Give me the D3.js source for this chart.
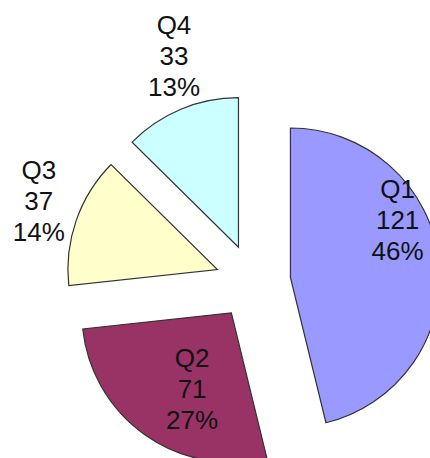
<!DOCTYPE html>
<html>
<head>
<meta charset="utf-8">
<script src="https://cdn.jsdelivr.net/npm/d3@7"></script>
<style>
  html, body { margin: 0; padding: 0; background: #fff; }
  svg { display: block; }
</style>
</head>
<body>
<svg id="chart" width="430" height="458"></svg>
<script>
var quarters = ["Q1", "Q2", "Q3", "Q4"];
var values = [121, 71, 37, 33];
var colors = ["#9999ff", "#993366", "#ffffcc", "#ccffff"];

// label placement: angle (deg, clockwise from 12 o'clock) and distance from pie centre
var labelAngle = [69.9, 207.7, 288.6, 340.0];
var labelDist = [154, 131, 226, 231];

var svg = d3.select("#chart");
var cx = 253, cy = 282;
var radius = 149.5;
var explode = 37.7;
var lineH = 31;

var total = d3.sum(values);
var data = quarters.map(function(q, i) { return {name: q, value: values[i], idx: i}; });

var pie = d3.pie().sort(null).value(function(d) { return d.value; });
var arc = d3.arc().innerRadius(0).outerRadius(radius);

var g = svg.append("g").attr("transform", "translate(" + cx + "," + cy + ")");

var slices = g.selectAll(".slice")
    .data(pie(data))
  .enter().append("path")
    .attr("class", "slice")
    .attr("d", arc)
    .attr("fill", function(d) { return colors[d.data.idx]; })
    .attr("stroke", "#333")
    .attr("stroke-width", 1.2)
    .attr("stroke-linejoin", "miter")
    .attr("transform", function(d) {
        var a = (d.startAngle + d.endAngle) / 2;
        return "translate(" + (Math.sin(a) * explode) + "," + (-Math.cos(a) * explode) + ")";
    });

var labels = g.selectAll(".lbl")
    .data(data)
  .enter().append("text")
    .attr("class", "lbl")
    .attr("text-anchor", "middle")
    .attr("font-family", "'Liberation Sans', Arial, sans-serif")
    .attr("font-size", 26)
    .attr("fill", "#111")
    .attr("transform", function(d, i) {
        var a = labelAngle[i] * Math.PI / 180;
        return "translate(" + (Math.sin(a) * labelDist[i]) + "," + (-Math.cos(a) * labelDist[i]) + ")";
    });

labels.append("tspan").attr("x", 0).attr("y", -lineH).text(function(d) { return d.name; });
labels.append("tspan").attr("x", 0).attr("y", 0).text(function(d) { return d.value; });
labels.append("tspan").attr("x", 0).attr("y", lineH).text(function(d) { return Math.round(d.value / total * 100) + "%"; });
</script>
</body>
</html>
